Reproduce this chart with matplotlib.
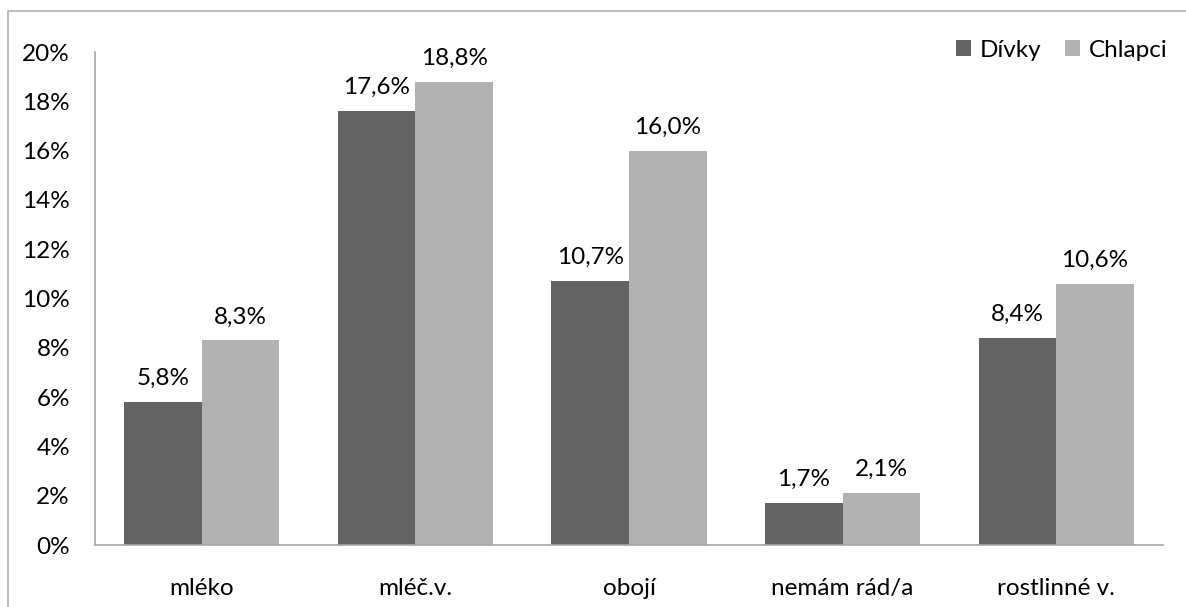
import numpy as np
import matplotlib
matplotlib.use('Agg')
import matplotlib.pyplot as plt
from matplotlib.patches import Rectangle
from matplotlib.ticker import FuncFormatter

# podíly odpovědí podle pohlaví (v %)
kategorie = ['mléko', 'mléč.v.', 'obojí', 'nemám rád/a', 'rostlinné v.']
divky = [5.8, 17.6, 10.7, 1.7, 8.4]
chlapci = [8.3, 18.8, 16.0, 2.1, 10.6]

plt.rcParams['font.family'] = ['Lato', 'DejaVu Sans']
fs = 17.5

fig = plt.figure(figsize = (11.86, 6.07), dpi = 100)
ax = fig.add_axes([0.0801, 0.1021, 0.9005, 0.8122])

x = np.arange(len(kategorie))
w = 0.363

b1 = ax.bar(x - w/2, divky, w, color = '#636363', label = 'Dívky')
b2 = ax.bar(x + w/2, chlapci, w, color = '#b2b2b2', label = 'Chlapci')

# popisky hodnot nad sloupci, desetinná čárka
for bars, vals in ((b1, divky), (b2, chlapci)):
    for r, v in zip(bars, vals):
        ax.annotate(f'{v:.1f}%'.replace('.', ','), (r.get_x() + r.get_width()/2, v),
                    xytext = (0, 13), textcoords = 'offset pixels',
                    ha = 'center', va = 'bottom', fontsize = fs)

ax.set_xlim(-0.5, len(kategorie) - 0.5)
ax.set_ylim(0, 20)
ax.set_yticks(np.arange(0, 21, 2))
ax.yaxis.set_major_formatter(FuncFormatter(lambda v, p: f'{v:.0f}%'))
ax.set_xticks(x)
ax.set_xticklabels(kategorie)
ax.tick_params(axis = 'y', length = 0, pad = 18, labelsize = fs)
ax.tick_params(axis = 'x', length = 0, pad = 24, labelsize = fs)

for s in ('top', 'right'):
    ax.spines[s].set_visible(False)
for s in ('left', 'bottom'):
    ax.spines[s].set_color('#a6a6a6')
    ax.spines[s].set_linewidth(1.2)

ax.legend(loc = 'upper right', bbox_to_anchor = (1.013, 1.045), ncol = 2, frameon = False,
          fontsize = fs, handlelength = 0.6, handleheight = 0.6, handletextpad = 0.35,
          columnspacing = 1.0, borderaxespad = 0)

# rámeček kolem grafu
fig.patches.append(Rectangle((8/1186, -0.5), 2, 0.5 + 1 - 11/607, transform = fig.transFigure,
                             fill = False, edgecolor = '#b0b0b0', linewidth = 1.2))

fig.savefig('out.png', dpi = 100)
